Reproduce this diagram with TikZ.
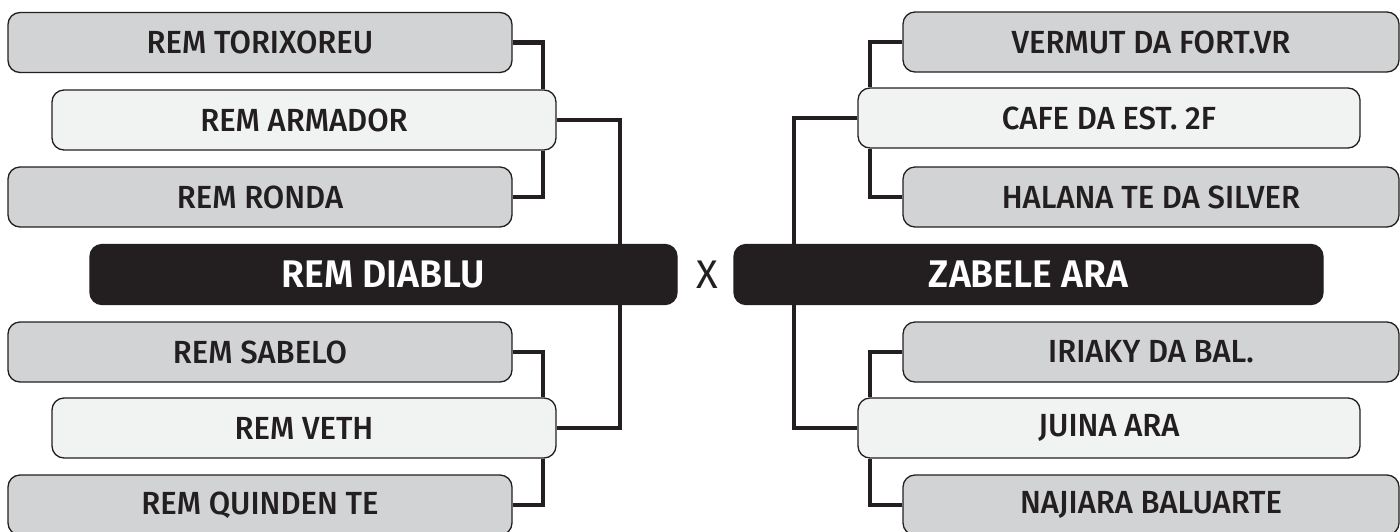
\documentclass[tikz,border=0pt]{standalone}
\usepackage{fontspec}
\setmainfont{Fira Sans}[UprightFont=* Medium, BoldFont=* SemiBold, FakeStretch=0.97]
\newfontfamily\xfont{Fira Sans}
\usetikzlibrary{backgrounds}
\definecolor{ink}{HTML}{231F20}
\definecolor{graybox}{HTML}{D1D3D4}
\definecolor{lightbox}{HTML}{F1F2F2}
\tikzset{
  item/.style={draw=ink, line width=1.3pt, rounded corners=12pt, minimum width=504pt,
    minimum height=60pt, inner sep=0pt, text=ink, font=\fontsize{32}{32}\selectfont},
  sidebox/.style={item, fill=graybox},
  midbox/.style={item, fill=lightbox},
  finalbox/.style={draw=ink, fill=ink, line width=1.3pt, rounded corners=12pt,
    minimum height=60pt, inner sep=0pt, text=white, font=\bfseries\fontsize{38.5}{38.5}\selectfont},
  link/.style={draw=ink, line width=4.8pt}
}
\begin{document}
\begin{tikzpicture}[x=1pt,y=-1pt]
\useasboundingbox (0,0) rectangle (1400,531);
% left side
\node[sidebox] (tor) at (260,42.5) {REM TORIXOREU};
\node[midbox]  (arm) at (304,120) {REM ARMADOR};
\node[sidebox] (ron) at (260,197) {REM RONDA};
\node[finalbox, minimum width=587pt] (dia) at (383.5,274.5) {REM DIABLU};
\node[sidebox] (sab) at (260,352) {REM SABELO};
\node[midbox]  (vet) at (304,428) {REM VETH};
\node[sidebox] (qui) at (260,505) {REM QUINDEN TE};
% right side
\node[sidebox, minimum width=496pt] (ver) at (1151,42) {VERMUT DA FORT.VR};
\node[midbox, minimum width=502pt]  (caf) at (1109,118) {CAFE DA EST. 2F};
\node[sidebox, minimum width=496pt] (hal) at (1151,197) {HALANA TE DA SILVER};
\node[finalbox, minimum width=589pt] (zab) at (1028.5,274.5) {ZABELE ARA};
\node[sidebox, minimum width=496pt] (iri) at (1151,352) {IRIAKY DA BAL.};
\node[midbox, minimum width=502pt]  (jui) at (1109,428) {JUINA ARA};
\node[sidebox, minimum width=496pt] (naj) at (1151,505) {NAJIARA BALUARTE};
\node[text=ink, font=\xfont\fontsize{40}{40}\selectfont] (vs) at (707,275) {X};
% columns
\coordinate (lc1) at (543,0);
\coordinate (lc2) at (620,0);
\coordinate (rc1) at (870,0);
\coordinate (rc2) at (794,0);
\begin{scope}[on background layer]
\draw[link] (tor.east) -| (lc1 |- arm.north);
\draw[link] (ron.east) -| (lc1 |- arm.south);
\draw[link] (arm.east) -| (lc2 |- dia.north);
\draw[link] (vet.east) -| (lc2 |- dia.south);
\draw[link] (sab.east) -| (lc1 |- vet.north);
\draw[link] (qui.east) -| (lc1 |- vet.south);
\draw[link] (ver.west) -| (rc1 |- caf.north);
\draw[link] (hal.west) -| (rc1 |- caf.south);
\draw[link] (caf.west) -| (rc2 |- zab.north);
\draw[link] (jui.west) -| (rc2 |- zab.south);
\draw[link] (iri.west) -| (rc1 |- jui.north);
\draw[link] (naj.west) -| (rc1 |- jui.south);
\end{scope}
\end{tikzpicture}
\end{document}
